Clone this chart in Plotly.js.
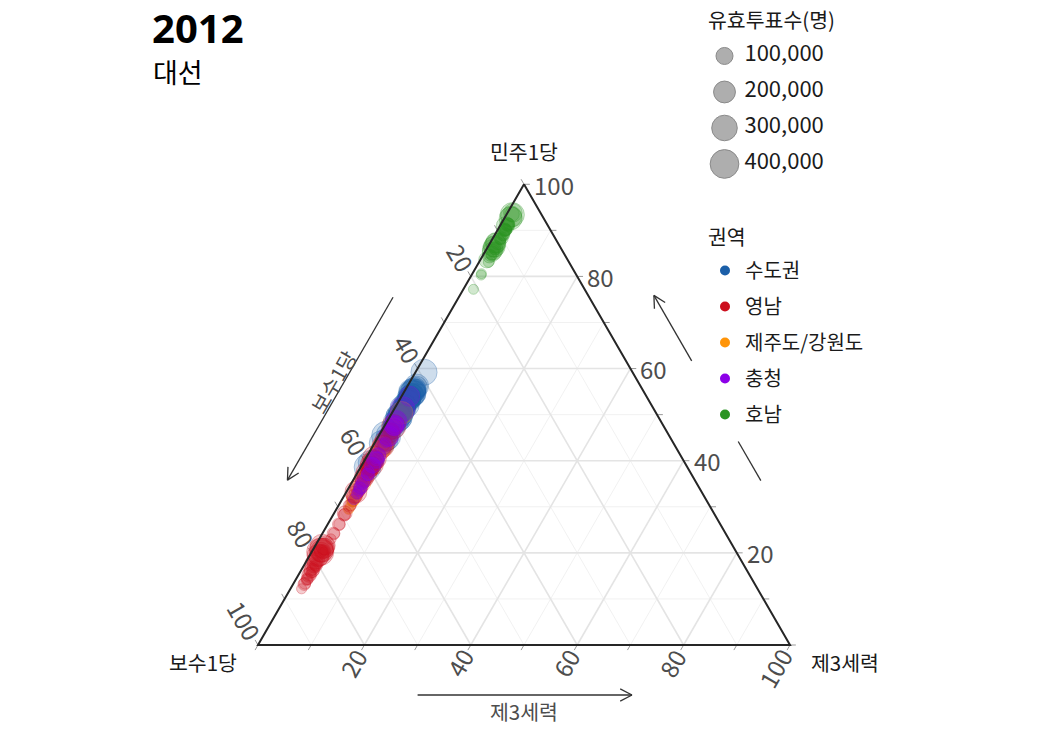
<!DOCTYPE html>
<html><head><meta charset="utf-8">
<script src="https://cdn.plot.ly/plotly-3.0.1.min.js"></script>
<style>body{margin:0;background:#fff}</style>
</head><body><div id="chart" style="width:1050px;height:750px"></div>
<script>
// ---------------- DATA (percent shares per 시군구, valid votes) ----------------
const regionNames = ["수도권", "영남", "제주도/강원도", "충청", "호남"];

const capitalDem = [52.4,49.6,47.4,52.2,54.0,51.6,53.2,55.2,56.0,53.4,54.8,54.6,53.4,55.6,51.4,54.6,56.2,55.6,51.4,53.6,59.2,39.6,38.6,45.4,49.6,
  45.4,45.8,48.4,48.2,50.2,52.2,53.4,51.2,34.2,31.0,
  50.0,49.4,49.2,52.4,53.4,53.6,43.8,49.6,51.4,49.8,53.0,53.4,54.2,54.4,44.6,39.8,54.6,55.2,50.6,51.2,51.4,45.2,50.2,49.4,52.4,54.2,52.2,49.0,48.4,40.4,48.4,45.8,47.2,40.2,43.0,47.4,49.2,45.0,46.0,38.0,36.2,33.4,34.2,35.4];
const capitalThird = [1.5,1.5,1.5,1.6,1.6,1.7,1.8,1.6,1.8,1.7,1.6,1.7,1.6,1.6,1.5,1.7,1.7,1.9,1.6,1.6,1.6,1.3,1.3,1.4,1.6,
  1.9,2.0,1.9,1.6,1.8,1.8,1.8,1.8,2.1,2.2,
  1.6,1.6,1.6,1.5,1.8,1.9,1.4,1.8,1.7,1.5,1.8,1.8,1.9,1.7,1.9,2.0,1.9,2.0,1.8,1.6,1.6,1.3,1.8,1.8,1.8,2.0,1.7,1.6,1.7,1.8,1.5,1.4,1.9,2.0,2.0,1.8,1.9,1.9,2.0,2.1,2.0,2.2,2.1,2.0];
const capitalVotes = [95000,78000,145000,175000,215000,205000,240000,270000,195000,210000,365000,305000,195000,240000,300000,345000,260000,150000,245000,255000,320000,260000,340000,415000,290000,
  65000,40000,235000,170000,265000,305000,205000,250000,45000,12000,
  175000,190000,110000,195000,130000,135000,295000,240000,145000,195000,175000,125000,100000,195000,225000,44000,175000,155000,225000,175000,175000,42000,105000,330000,95000,210000,155000,88000,90000,120000,225000,190000,205000,108000,98000,165000,285000,160000,105000,88000,60000,27000,36000,65000];

const yeongnamDem = [37.4,36.2,37.0,38.4,39.2,38.8,40.2,44.2,40.6,43.2,39.4,43.6,40.2,38.6,46.0,38.4,
  20.4,19.4,17.6,18.2,20.6,21.4,20.2,18.4,
  38.2,37.4,47.2,46.4,36.2,
  20.2,19.2,21.0,16.4,21.4,20.4,17.4,16.2,15.2,15.4,21.6,12.2,13.2,14.2,15.4,16.4,13.4,16.2,14.4,20.2,14.2,17.2,17.4,20.4,
  36.4,43.4,32.6,34.4,38.4,33.2,33.4,32.2,47.4,28.6,45.2,42.4,23.0,30.2,24.2,28.2,30.4,28.4,24.2,26.2,26.2,20.4];
const yeongnamThird = [1.8,1.9,1.9,1.9,1.8,1.7,1.7,1.8,1.6,1.9,1.8,1.9,1.7,1.7,1.9,1.9,
  1.6,1.6,1.7,1.6,1.6,1.4,1.6,1.7,
  1.8,1.7,1.9,1.8,1.9,
  1.8,1.8,1.9,1.9,1.8,1.8,1.9,2.0,2.0,2.0,1.9,2.1,2.1,2.1,2.2,2.1,2.1,2.0,2.1,1.9,2.1,2.2,2.1,2.2,
  1.7,1.8,1.8,1.8,1.9,1.8,1.9,2.0,1.8,2.0,1.9,1.9,2.2,2.1,2.1,2.1,2.2,2.1,2.2,2.2,2.1,2.2];
const yeongnamVotes = [30000,70000,55000,75000,230000,165000,175000,175000,250000,205000,150000,40000,125000,105000,140000,75000,
  45000,205000,120000,95000,255000,265000,350000,105000,
  130000,180000,105000,100000,125000,
  140000,150000,160000,82000,100000,220000,65000,65000,62000,47000,145000,17000,38000,18000,12000,27000,31000,23000,31000,65000,31000,22000,34000,6000,
  140000,145000,100000,115000,100000,200000,75000,65000,260000,65000,125000,145000,19000,40000,40000,35000,30000,30000,24000,26000,40000,32000];

const jejuGangwonDem = [50.4,47.6,42.2,43.0,35.2,35.0,35.4,36.0,31.4,33.2,32.4,32.0,31.2,35.0,31.4,29.4,30.2,32.0,29.6,31.2];
const jejuGangwonThird = [1.8,1.9,1.8,1.9,1.9,2.0,2.1,2.0,2.1,2.2,2.2,2.3,2.3,2.3,2.2,2.3,2.3,2.3,2.3,2.3];
const jejuGangwonVotes = [220000,85000,145000,165000,125000,52000,28000,48000,44000,41000,27000,25000,26000,25000,26000,14000,13000,19000,18000,17000];

const chungcheongDem = [47.8,48.6,51.2,54.0,47.4,47.6,48.6,40.2,39.0,43.2,32.8,35.0,34.0,44.0,43.2,33.4,40.4,33.0,45.4,47.6,41.2,35.4,45.2,40.2,39.0,37.8,41.0,37.0,34.0,35.4,31.6,37.2,34.4,37.0,47.4];
const chungcheongThird = [1.8,1.7,1.6,1.5,1.8,1.8,1.7,2.0,2.0,2.0,2.2,2.1,2.2,2.0,2.1,2.3,2.1,2.2,1.9,1.8,2.0,2.0,1.9,2.0,2.1,1.9,2.0,2.1,2.2,2.1,2.2,2.1,2.2,2.2,1.8];
const chungcheongVotes = [130000,145000,270000,160000,115000,135000,195000,118000,80000,85000,23000,33000,32000,20000,35000,25000,50000,20000,175000,160000,70000,62000,145000,85000,73000,22000,80000,35000,46000,38000,22000,52000,52000,40000,55000];

const honamDem = [93.5,93.0,93.8,93.4,92.6,86.5,87.2,85.3,85.8,87.4,85.1,86.2,84.4,80.3,77.2,80.6,83.1,84.6,86.1,85.6,91.0,86.4,87.3,90.9,83.6,90.0,88.1,86.2,88.3,90.1,90.2,90.0,91.1,91.2,90.1,91.3,91.4,89.1,88.2,89.4,88.3,89.0];
const honamThird = [1.0,1.1,1.0,1.1,1.2,1.2,1.1,1.3,1.2,1.4,1.5,1.6,1.3,1.8,1.9,1.7,1.8,1.6,1.5,1.4,1.0,1.1,1.0,1.2,1.2,1.3,1.5,1.5,1.6,1.5,1.3,1.6,1.5,1.4,1.4,1.2,1.5,1.4,1.4,1.5,1.6,1.7];
const honamVotes = [62000,180000,130000,260000,230000,190000,160000,140000,170000,65000,50000,55000,50000,16000,16000,15000,20000,20000,39000,38000,120000,170000,160000,55000,85000,32000,20000,18000,50000,35000,43000,30000,27000,52000,38000,45000,25000,38000,33000,38000,24000,30000];

const sizeBreaks = [100000, 200000, 300000, 400000];
const sizeBreakLabels = ["100,000", "200,000", "300,000", "400,000"];
const gridTicks = [20, 40, 60, 80];
const gridMinor = [10, 30, 50, 70, 90];
const tickLabelValues = [20, 40, 60, 80, 100];
const axisNames = {a: "민주1당", b: "보수1당", c: "제3세력"};

// ---------------- STYLE ----------------
const regionColors = {"수도권":[27,95,168], "영남":[204,15,30], "제주도/강원도":[255,148,8], "충청":[140,0,232], "호남":[42,148,34]};
const FONT = "Noto Sans CJK KR, Noto Sans, sans-serif";
const SQ = Math.sqrt(3) / 2;
const PX = 532; // pixels per ternary unit (used for fixed ranges)

function tern(a, b, c) { const s = a + b + c; return [(c + a / 2) / s, (a * SQ) / s]; }
function sizeOf(v) { return 5.3 + 0.037 * Math.sqrt(v); }
function rgba(c, al) { return `rgba(${c[0]},${c[1]},${c[2]},${al})`; }

const traces = [];
function segTrace(segs, color, width) {
  const x = [], y = [];
  segs.forEach(s => { x.push(s[0][0], s[1][0], null); y.push(s[0][1], s[1][1], null); });
  return {type: "scatter", mode: "lines", x, y, line: {color, width}, hoverinfo: "skip", showlegend: false};
}
function gridSegs(vals) {
  const segs = [];
  vals.forEach(v => {
    segs.push([tern(v, 100 - v, 0), tern(v, 0, 100 - v)]);
    segs.push([tern(100 - v, v, 0), tern(0, v, 100 - v)]);
    segs.push([tern(100 - v, 0, v), tern(0, 100 - v, v)]);
  });
  return segs;
}
traces.push(segTrace(gridSegs(gridMinor), "#efefef", 0.9));
traces.push(segTrace(gridSegs(gridTicks), "#e4e4e4", 1.6));

// small tick marks
const tickSegs = [];
const TL = 0.011;
for (let v = 0; v <= 100; v += 10) {
  const pa = tern(v, 0, 100 - v); tickSegs.push([pa, [pa[0] + TL, pa[1]]]);
  const pb = tern(100 - v, v, 0); tickSegs.push([pb, [pb[0] - TL * 0.5, pb[1] + TL * SQ]]);
  const pc = tern(0, 100 - v, v); tickSegs.push([pc, [pc[0] - TL * 0.5, pc[1] - TL * SQ]]);
}
traces.push(segTrace(tickSegs, "#9a9a9a", 1));

// data traces (drawing order)
const regionData = {
  "수도권": [capitalDem, capitalThird, capitalVotes],
  "제주도/강원도": [jejuGangwonDem, jejuGangwonThird, jejuGangwonVotes],
  "영남": [yeongnamDem, yeongnamThird, yeongnamVotes],
  "충청": [chungcheongDem, chungcheongThird, chungcheongVotes],
  "호남": [honamDem, honamThird, honamVotes]
};
Object.keys(regionData).forEach(name => {
  const [dem, third, votes] = regionData[name];
  const pts = dem.map((d, i) => tern(d, 100 - d - third[i], third[i]));
  traces.push({
    type: "scatter", mode: "markers", name, showlegend: false,
    x: pts.map(p => p[0]), y: pts.map(p => p[1]),
    text: dem.map((d, i) => `${name}<br>민주1당 ${d}%<br>보수1당 ${(100 - d - third[i]).toFixed(1)}%<br>제3세력 ${third[i]}%<br>유효투표수 ${votes[i].toLocaleString()}`),
    hoverinfo: "text",
    marker: {size: votes.map(sizeOf), sizemode: "diameter", color: rgba(regionColors[name], 0.3),
             line: {color: rgba(regionColors[name], 0.45), width: 1}}
  });
});

// triangle edges
const A = tern(100, 0, 0), B = tern(0, 100, 0), C = tern(0, 0, 100);
traces.push({type: "scatter", mode: "lines", x: [A[0], B[0], C[0], A[0]], y: [A[1], B[1], C[1], A[1]],
  line: {color: "#262626", width: 2}, hoverinfo: "skip", showlegend: false});

// direction arrows
function along(P, Q, t, n, off) { return [P[0] + (Q[0] - P[0]) * t + n[0] * off, P[1] + (Q[1] - P[1]) * t + n[1] * off]; }
function arrowSegs(tail, head) {
  const dx = head[0] - tail[0], dy = head[1] - tail[1], L = Math.hypot(dx, dy);
  const ux = dx / L, uy = dy / L, h = 0.025, ang = Math.PI / 6.5;
  const r = (s) => [head[0] - h * (ux * Math.cos(s) - uy * Math.sin(s)), head[1] - h * (uy * Math.cos(s) + ux * Math.sin(s))];
  return [[tail, head], [head, r(ang)], [head, r(-ang)]];
}
const nL = [-SQ, 0.5], nR = [SQ, 0.5], nB = [0, -1];
let arrowS = [];
arrowS = arrowS.concat(arrowSegs(along(B, A, 0.693, nL, 0.107), along(B, A, 0.296, nL, 0.107)));
arrowS = arrowS.concat(arrowSegs(along(B, C, 0.30, nB, 0.094), along(B, C, 0.703, nB, 0.094)));
arrowS = arrowS.concat(arrowSegs(along(C, A, 0.555, nR, 0.107), along(C, A, 0.697, nR, 0.107)));
arrowS.push([along(C, A, 0.295, nR, 0.107), along(C, A, 0.38, nR, 0.107)]);
traces.push(segTrace(arrowS, "#333333", 1.3));

// colour legend entries
regionNames.forEach(name => {
  traces.push({type: "scatter", mode: "markers", name, x: [null], y: [null], legendgroup: name,
    marker: {color: rgba(regionColors[name], 1), size: 10}, hoverinfo: "skip", showlegend: true});
});

// size legend (own small axes)
traces.push({type: "scatter", mode: "markers", xaxis: "x2", yaxis: "y2", x: sizeBreaks.map(() => 0), y: sizeBreaks.map((v, i) => i),
  marker: {size: sizeBreaks.map(sizeOf), color: "#aeaeae", opacity: 1, line: {color: "#8a8a8a", width: 1}},
  hoverinfo: "skip", showlegend: false});
traces.push({type: "scatter", mode: "text", xaxis: "x2", yaxis: "y2", x: sizeBreaks.map(() => 0.95), y: sizeBreaks.map((v, i) => i),
  text: sizeBreakLabels, textposition: "middle right", textfont: {size: 22, color: "#1a1a1a", family: FONT},
  hoverinfo: "skip", showlegend: false});

// annotations: tick labels & axis names
const ann = [];
tickLabelValues.forEach(v => {
  const pa = tern(v, 0, 100 - v);
  ann.push({x: pa[0], y: pa[1], text: String(v), showarrow: false, xanchor: "left", yanchor: "middle", xshift: 8,
    font: {size: 24, color: "#4d4d4d"}});
  const pb = tern(100 - v, v, 0);
  ann.push({x: pb[0], y: pb[1], text: String(v), showarrow: false, xanchor: "right", yanchor: "bottom", xshift: 15, yshift: -4,
    textangle: 60, font: {size: 24, color: "#4d4d4d"}});
  const pc = tern(0, 100 - v, v);
  ann.push({x: pc[0], y: pc[1], text: String(v), showarrow: false, xanchor: "right", yanchor: "top", xshift: 13, yshift: 6,
    textangle: -60, font: {size: 24, color: "#4d4d4d"}});
});
const KF = 20.5;
ann.push({x: A[0], y: A[1] + 0.062, text: axisNames.a, showarrow: false, xanchor: "center", yanchor: "middle", font: {size: KF, color: "#1a1a1a"}});
ann.push({x: B[0] - 0.103, y: B[1] - 0.032, text: axisNames.b, showarrow: false, xanchor: "center", yanchor: "middle", font: {size: KF, color: "#1a1a1a"}});
ann.push({x: C[0] + 0.103, y: C[1] - 0.032, text: axisNames.c, showarrow: false, xanchor: "center", yanchor: "middle", font: {size: KF, color: "#1a1a1a"}});
const lblL = along(B, A, 0.50, nL, 0.125);
ann.push({x: lblL[0], y: lblL[1], text: axisNames.b, showarrow: false, textangle: -60, font: {size: KF, color: "#4d4d4d"}});
const lblB = along(B, C, 0.5, nB, 0.124);
ann.push({x: lblB[0], y: lblB[1], text: axisNames.c, showarrow: false, font: {size: KF, color: "#4d4d4d"}});
ann.push({xref: "paper", yref: "paper", x: 706 / 1050, y: 1 - 19 / 750, text: "유효투표수(명)", showarrow: false,
  xanchor: "left", yanchor: "middle", font: {size: KF, color: "#1a1a1a"}});
ann.push({xref: "paper", yref: "paper", x: 706 / 1050, y: 1 - 236 / 750, text: "권역", showarrow: false,
  xanchor: "left", yanchor: "middle", font: {size: KF, color: "#1a1a1a"}});
ann.push({xref: "paper", yref: "paper", x: 151 / 1050, y: 1 - 72 / 750, text: "대선", showarrow: false,
  xanchor: "left", yanchor: "middle", font: {size: 27, color: "#000000"}});

const layout = {
  width: 1050, height: 750, autosize: false,
  margin: {l: 0, r: 0, t: 0, b: 0},
  paper_bgcolor: "#ffffff", plot_bgcolor: "rgba(0,0,0,0)",
  font: {family: FONT, color: "#1a1a1a"},
  title: {text: "<b>2012</b>", x: 152 / 1050, xanchor: "left", xref: "container", y: 1 - 29 / 750, yref: "container", yanchor: "middle",
          font: {size: 40, color: "#000000", family: "Noto Sans, Noto Sans CJK KR, sans-serif"}},
  xaxis: {domain: [0, 1], range: [-258 / PX, (1050 - 258) / PX], visible: false, fixedrange: true},
  yaxis: {domain: [0, 1], range: [(645 - 750) / PX, 645 / PX], visible: false, fixedrange: true},
  xaxis2: {domain: [693 / 1050, 903 / 1050], range: [-1.5, 8.5], visible: false, anchor: "y2", fixedrange: true},
  yaxis2: {domain: [1 - 190 / 750, 1], range: [3.778 - 0.055, -1.5 - 0.055], visible: false, anchor: "x2", fixedrange: true},
  showlegend: true,
  legend: {x: 705 / 1050, xanchor: "left", y: 1 - 251 / 750, yanchor: "top", bgcolor: "rgba(0,0,0,0)",
    font: {size: 20, color: "#1a1a1a"}, tracegroupgap: 7, itemsizing: "trace"},
  annotations: ann,
  hovermode: "closest"
};
Plotly.newPlot("chart", traces, layout, {displayModeBar: false});
</script>
</body></html>
